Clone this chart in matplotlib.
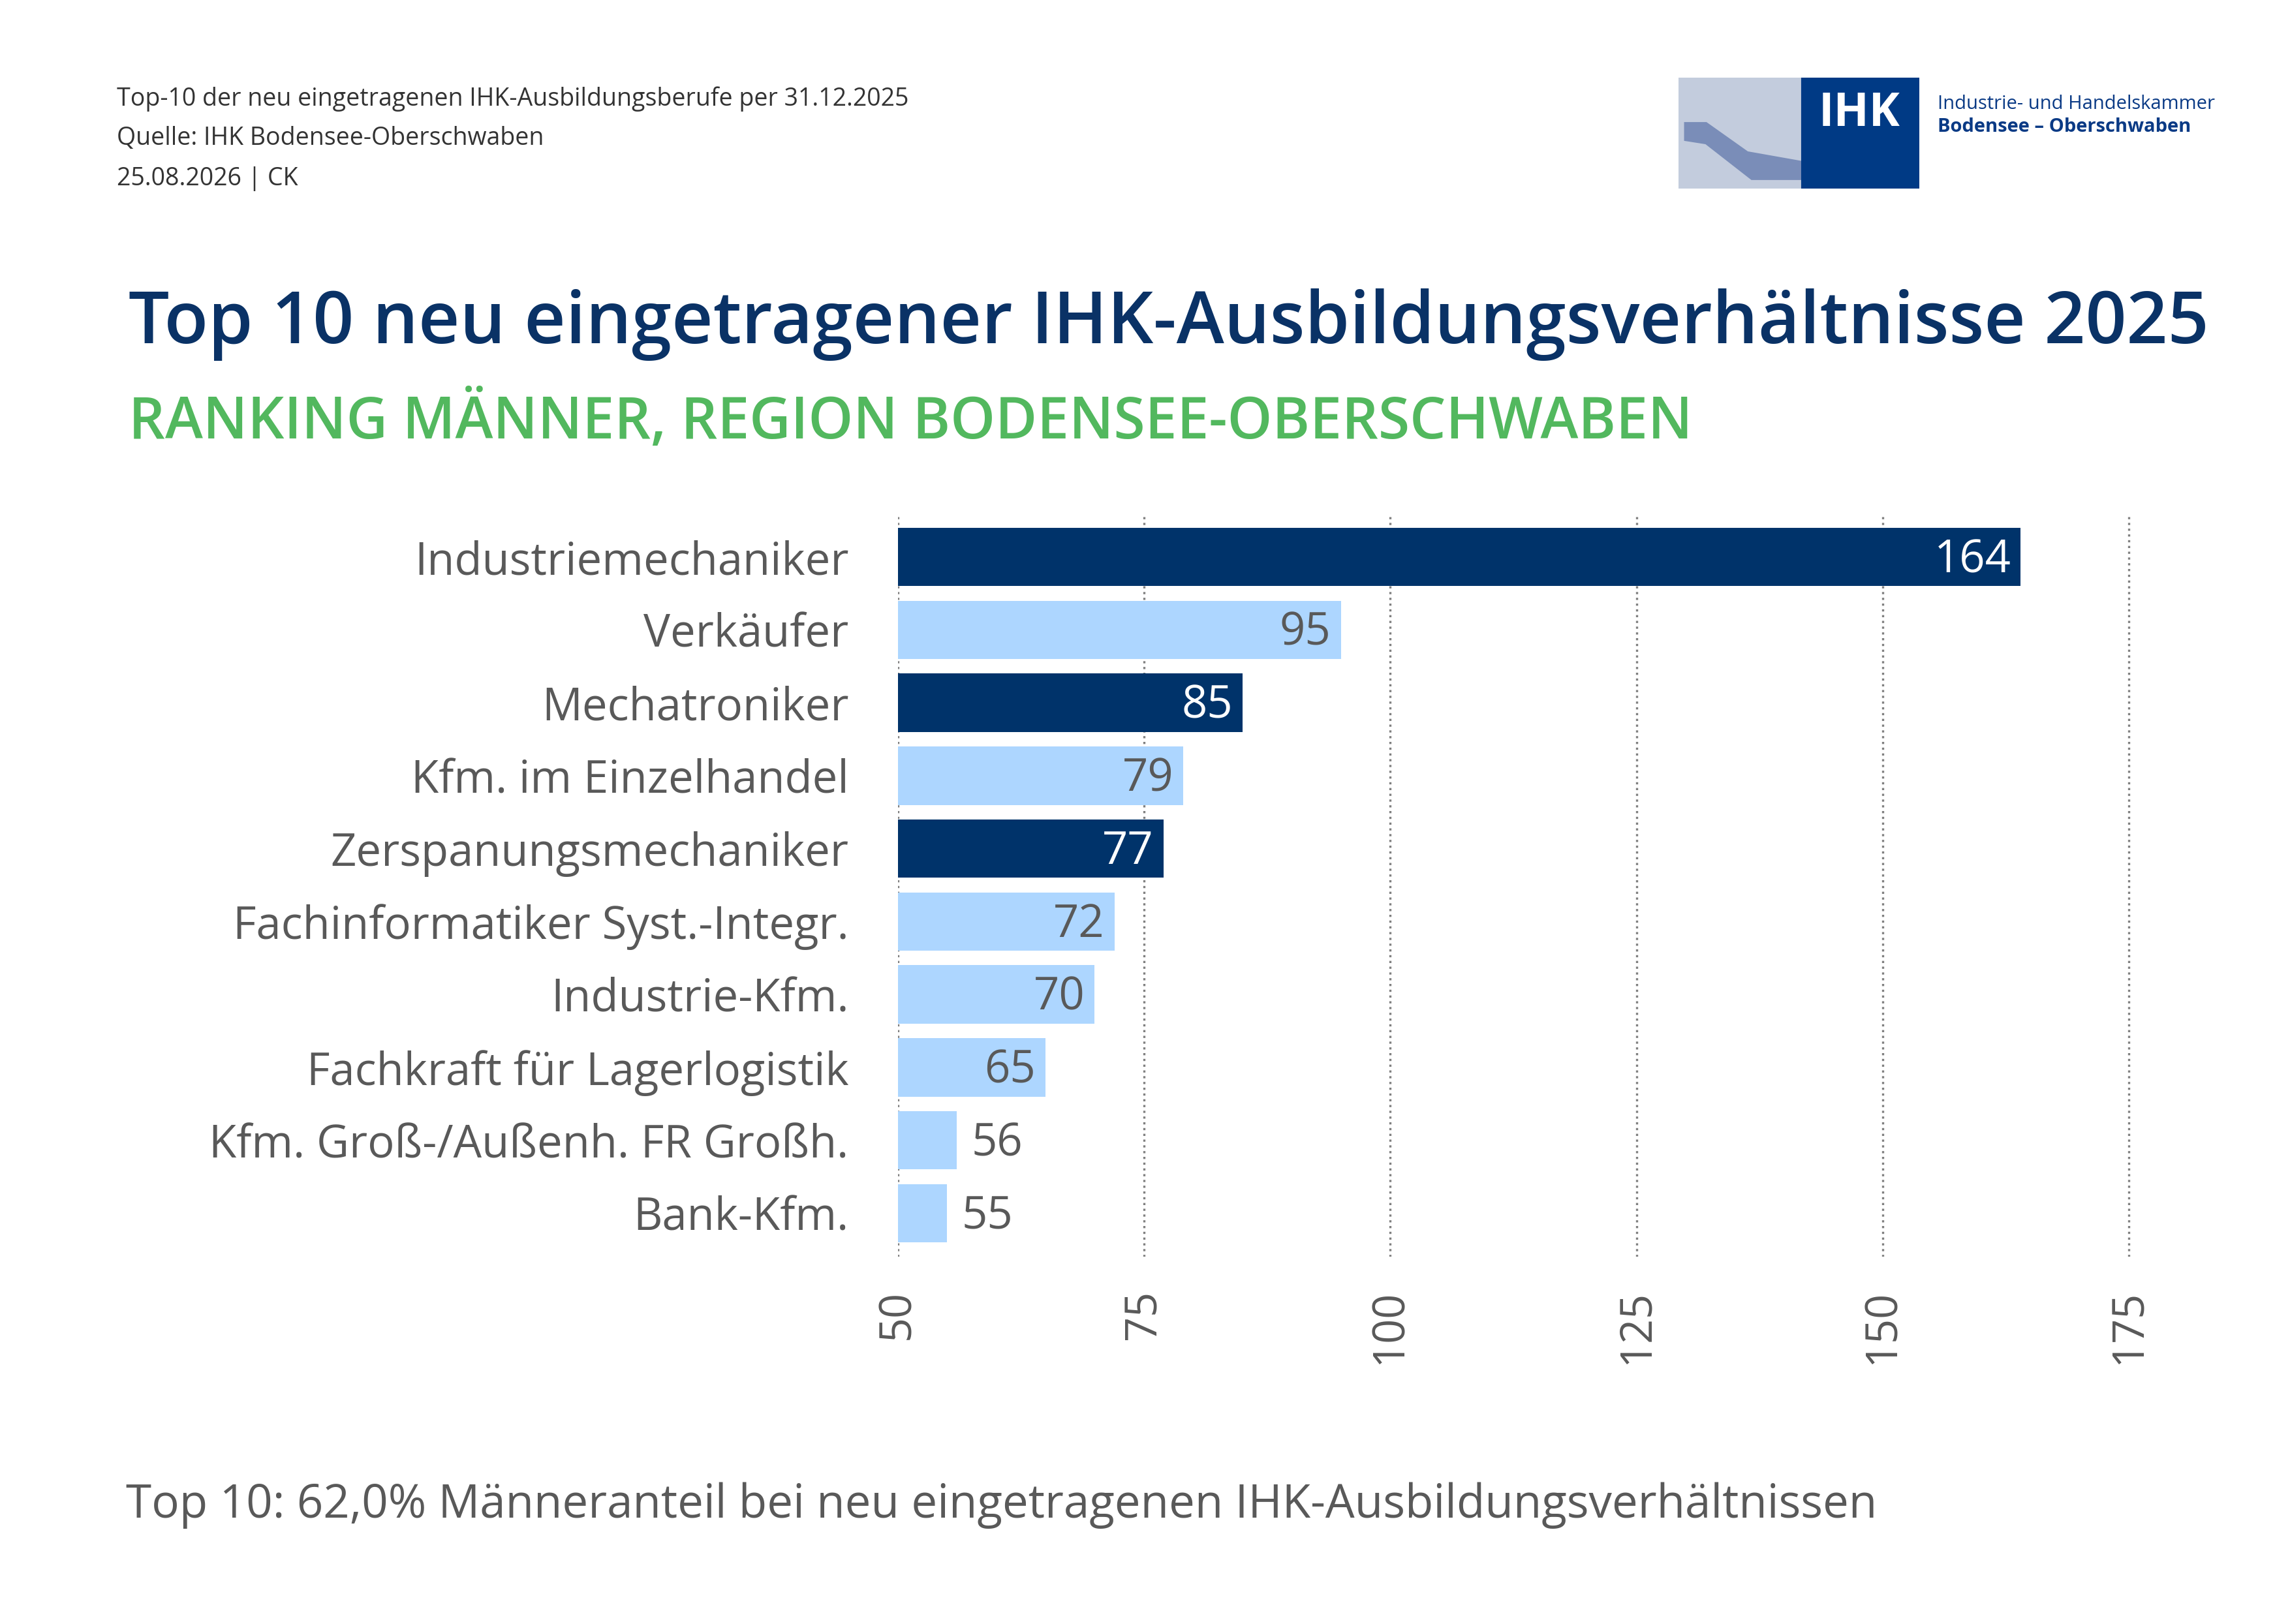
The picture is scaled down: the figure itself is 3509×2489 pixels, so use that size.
import numpy as np
import matplotlib.pyplot as plt
from matplotlib.patches import Rectangle, Polygon

plt.rcParams['font.family'] = ['Open Sans', 'DejaVu Sans']

# data
berufe = ["Industriemechaniker", "Verkäufer", "Mechatroniker", "Kfm. im Einzelhandel",
          "Zerspanungsmechaniker", "Fachinformatiker Syst.-Integr.", "Industrie-Kfm.",
          "Fachkraft für Lagerlogistik", "Kfm. Groß-/Außenh. FR Großh.", "Bank-Kfm."]
anzahl = [164, 95, 85, 79, 77, 72, 70, 65, 56, 55]
dunkel = [True, False, True, False, True, False, False, False, False, False]
xticks = [50, 75, 100, 125, 150, 175]

DARK = '#00336A'
LIGHT = '#ADD6FF'
GREY = '#595959'

fig = plt.figure(figsize=(3509/300, 2489/300), dpi=300)

# header
fig.text(0.051, 0.939, "Top-10 der neu eingetragenen IHK-Ausbildungsberufe per 31.12.2025", fontsize=9, color='#333333', va='center')
fig.text(0.051, 0.915, "Quelle: IHK Bodensee-Oberschwaben", fontsize=9, color='#333333', va='center')
fig.text(0.051, 0.890, "25.08.2026 | CK", fontsize=9, color='#333333', va='center')

fig.text(0.056, 0.800, "Top 10 neu eingetragener IHK-Ausbildungsverhältnisse 2025", fontsize=26.5,
         color='#0A3266', fontweight='semibold', va='center')
fig.text(0.056, 0.740, "RANKING MÄNNER, REGION BODENSEE-OBERSCHWABEN", fontsize=21,
         color='#52B85E', fontweight='semibold', va='center')

fig.text(0.055, 0.073, "Top 10: 62,0% Männeranteil bei neu eingetragenen IHK-Ausbildungsverhältnissen",
         fontsize=17, color=GREY, va='center')

# logo
lg = fig.add_axes([0.733, 0.884, 0.105, 0.068])
lg.set_xlim(0, 105)
lg.set_ylim(0, 68)
lg.axis('off')
lg.add_patch(Rectangle((0, 0), 54, 68, color='#C3CCDD'))
lg.add_patch(Polygon([[3, 40], [12, 40], [30, 22], [54, 16], [54, 6], [32, 6], [12, 28], [3, 30]], color='#7A8DB8'))
lg.add_patch(Rectangle((54, 0), 51, 68, color='#003A85'))
lg.text(79, 46, "IHK", color='white', fontsize=17, fontweight='bold', ha='center', va='center')
fig.text(0.846, 0.936, "Industrie- und Handelskammer", fontsize=7, color='#0A3A85', va='center')
fig.text(0.846, 0.922, "Bodensee – Oberschwaben", fontsize=7, color='#0A3A85', va='center', fontweight='bold')

# chart
ax = fig.add_axes([0.392, 0.226, 0.542, 0.458])
y = np.arange(len(berufe))
farben = [DARK if d else LIGHT for d in dunkel]
ax.barh(y, [a - 50 for a in anzahl], left=50, height=0.8, color=farben, zorder=2)
ax.set_ylim(len(berufe) - 0.5 + 0.1, -0.5 - 0.1)
ax.set_xlim(50, 176)
ax.set_xticks(xticks)
ax.set_xticklabels([str(t) for t in xticks], rotation=90, fontsize=16, color=GREY)
ax.set_yticks(y)
ax.set_yticklabels(berufe, fontsize=16.5, color=GREY)
ax.tick_params(length=0, pad=18)
ax.tick_params(axis='x', pad=12)
ax.grid(axis='x', linestyle=':', color='#808080', linewidth=0.8, zorder=0)
for s in ax.spines.values():
    s.set_visible(False)

for i, (a, d) in enumerate(zip(anzahl, dunkel)):
    if a >= 60:
        ax.text(a - 1, i + 0.05, str(a), ha='right', va='center', fontsize=16.5,
                color='white' if d else GREY)
    else:
        ax.text(a + 1.5, i + 0.05, str(a), ha='left', va='center', fontsize=16.5, color=GREY)

fig.savefig('out.png', dpi=300)
